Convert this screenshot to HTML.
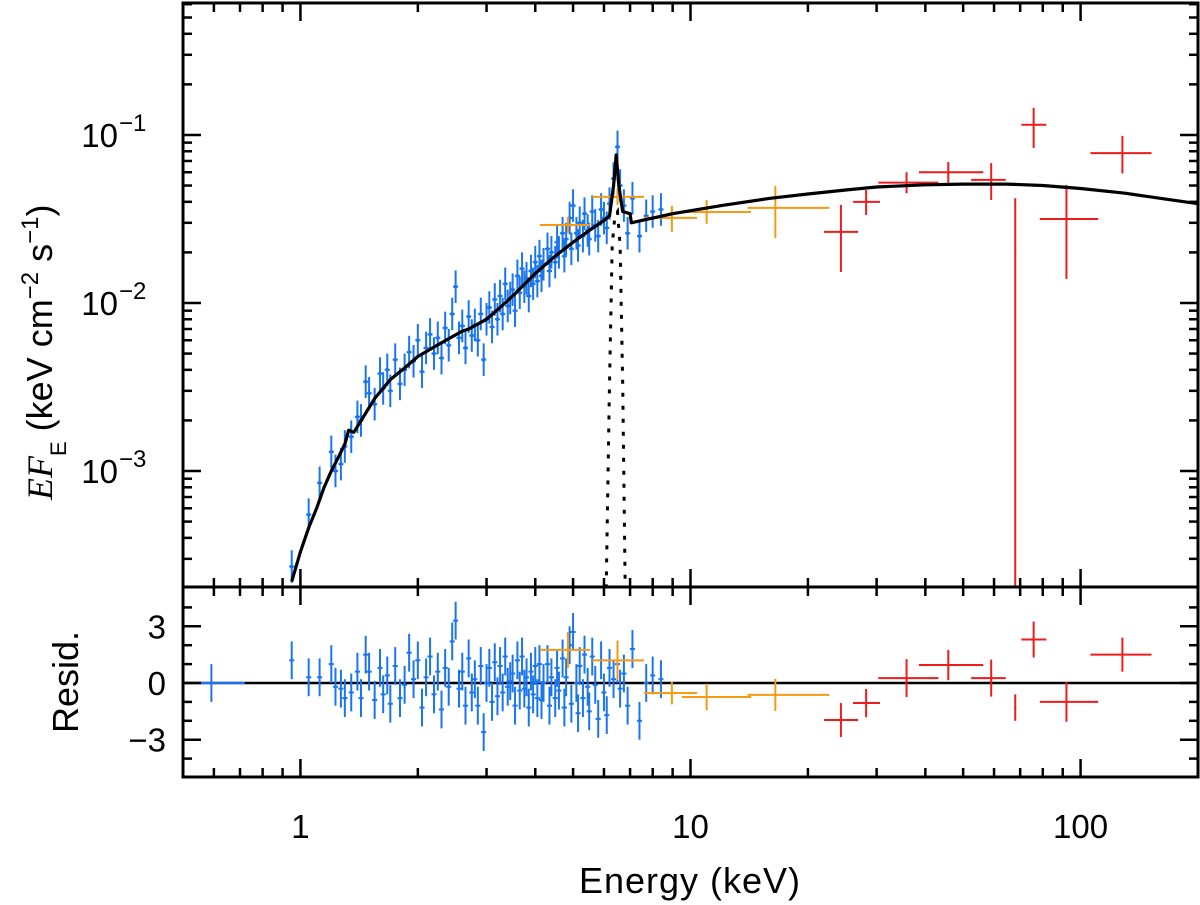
<!DOCTYPE html>
<html><head><meta charset="utf-8"><style>
html,body{margin:0;padding:0;background:#fff;}
svg{display:block;font-family:"Liberation Sans",sans-serif;}
</style></head><body>
<svg id="chart" width="1200" height="905" viewBox="0 0 1200 905" xmlns="http://www.w3.org/2000/svg"></svg>
<script>
// ---- data ----
const modelE = [0.95,1.0,1.05,1.1,1.15,1.2,1.25,1.3,1.33,1.37,1.45,1.55,1.7,1.85,2.0,2.3,2.6,2.7,3.0,3.25,3.5,4,4.5,5,5.5,6,6.2,6.35,6.45,6.55,6.7,7.0,7.05,7.5,9,12,16,20,25,30,40,50,65,80,100,130,160,200];
const modelF = [2.2e-4,3.3e-4,4.6e-4,6e-4,8e-4,1.0e-3,1.2e-3,1.45e-3,1.75e-3,1.7e-3,2.1e-3,2.7e-3,3.5e-3,4.1e-3,4.8e-3,5.8e-3,6.8e-3,7.0e-3,8e-3,9.4e-3,1.1e-2,1.5e-2,1.9e-2,2.3e-2,2.7e-2,3.1e-2,3.3e-2,5e-2,7.6e-2,5e-2,3.5e-2,3.4e-2,3.0e-2,3.1e-2,3.4e-2,3.8e-2,4.2e-2,4.45e-2,4.7e-2,4.9e-2,5.05e-2,5.1e-2,5.1e-2,5.0e-2,4.8e-2,4.5e-2,4.2e-2,3.9e-2];
const lineE = [6.08,6.2,6.3,6.4,6.5,6.6,6.7,6.8];
const lineF = [2e-4,3.3e-3,2.2e-2,3.3e-2,3.5e-2,2.2e-2,3.3e-3,2e-4];

const blueE = [0.95,1.05,1.12,1.2,1.23,1.27,1.3,1.35,1.4,1.43,1.47,1.5,1.55,1.6,1.63,1.67,1.7,1.75,1.8,1.85,1.9,1.95,2.0,2.05,2.1,2.15,2.2,2.25,2.3,2.35,2.4,2.45,2.5,2.55,2.6,2.65,2.7,2.75,2.8,2.85,2.9,2.95,3.0,3.05,3.1,3.15,3.2,3.25,3.3,3.35,3.4,3.45,3.5,3.55,3.6,3.65,3.7,3.75,3.8,3.85,3.9,3.95,4.0,4.05,4.1,4.15,4.2,4.3,4.35,4.4,4.5,4.55,4.6,4.7,4.75,4.8,4.9,4.95,5.0,5.1,5.15,5.2,5.3,5.35,5.45,5.5,5.6,5.7,5.8,5.9,6.0,6.1,6.2,6.35,6.5,6.6,6.75,6.9,7.1,7.4,7.7,8.0,8.4];
const blueF = [2.7e-4,5.5e-4,8.5e-4,1.3e-3,1.0e-3,1.1e-3,1.4e-3,1.6e-3,2.1e-3,2.0e-3,3.4e-3,2.9e-3,2.5e-3,3.8e-3,3.1e-3,4.0e-3,3.0e-3,4.6e-3,3.3e-3,4.0e-3,5.1e-3,4.5e-3,6.0e-3,3.9e-3,5.4e-3,6.5e-3,5.0e-3,6.2e-3,4.7e-3,7.1e-3,5.6e-3,8.6e-3,1.25e-2,6.2e-3,7.3e-3,5.4e-3,8.3e-3,6.4e-3,7.4e-3,6.0e-3,8.6e-3,4.6e-3,8.0e-3,9.4e-3,7.2e-3,1.05e-2,8.0e-3,1.1e-2,8.6e-3,1.3e-2,9.6e-3,1.07e-2,1.2e-2,9.0e-3,1.45e-2,1.15e-2,1.6e-2,1.25e-2,1.4e-2,1.1e-2,1.55e-2,1.3e-2,1.75e-2,1.35e-2,1.9e-2,1.45e-2,1.7e-2,2.1e-2,1.55e-2,2.0e-2,1.75e-2,2.3e-2,2.0e-2,2.6e-2,1.9e-2,2.4e-2,3.2e-2,2.1e-2,3.8e-2,2.6e-2,2.2e-2,3.0e-2,2.5e-2,3.4e-2,2.7e-2,2.4e-2,3.5e-2,2.9e-2,2.5e-2,3.6e-2,3.2e-2,2.8e-2,3.9e-2,5.5e-2,8.5e-2,5.0e-2,3.8e-2,2.6e-2,4.2e-2,2.5e-2,3.3e-2,3.5e-2,3.6e-2];
const blueR = [1.2,0.3,0.3,1.0,-0.2,-0.3,-0.8,-0.5,0.6,-0.8,1.5,0.6,-0.9,0.8,-0.6,0.4,-1.1,0.9,-0.8,-0.1,1.6,0.2,1.2,-1.3,0.3,1.4,-0.6,0.6,-1.4,0.8,-0.2,2.2,3.3,-0.3,0.6,-1.2,1.3,-0.5,0.2,-1.2,0.9,-2.6,0.0,0.8,-1.0,1.1,-0.7,0.9,-0.5,1.4,-0.2,0.1,0.5,-1.2,1.2,-0.4,1.4,-0.3,0.3,-1.3,0.6,-0.6,0.9,-0.8,1.0,-0.9,0.0,1.0,-1.2,0.3,-0.8,0.8,-0.4,1.3,-1.3,0.3,2.0,-1.1,2.7,0.0,-1.6,0.9,-0.8,1.5,-0.2,-1.5,1.4,-0.1,-1.9,1.2,-0.5,-1.7,0.8,0.2,1.0,-0.3,0.5,-1.2,1.8,-2.0,0.0,0.4,0.2];

const orangeE  = [4.85,6.5,8.96,11.0,16.5];
const orangeElo= [4.11,5.6,7.6,9.5,14.0];
const orangeEhi= [5.53,7.6,10.4,14.3,22.7];
const orangeF  = [0.0291,0.0428,0.0321,0.0348,0.0368];
const orangeFlo= [0.0261,0.0383,0.0265,0.0296,0.0243];
const orangeFhi= [0.0325,0.048,0.0378,0.041,0.0497];
const orangeR  = [1.75,1.2,-0.53,-0.74,-0.63];
const orangeRerr=[0.95,1.05,0.6,0.7,0.85];

const redE  = [24.3,28.2,35.8,45.8,59,68,75.8,92,128];
const redElo= [22.0,26.1,30.3,38.5,52.4,67.6,70.5,78.6,106];
const redEhi= [26.9,30.6,43.2,56.3,64.3,68.4,81.7,111,152];
const redF  = [0.0265,0.040,0.052,0.060,0.054,0.0198,0.115,0.0316,0.078];
const redFlo= [0.0153,0.0334,0.045,0.052,0.041,0.0001,0.0837,0.0139,0.059];
const redFhi= [0.0383,0.047,0.060,0.069,0.068,0.042,0.145,0.0504,0.0987];
const redR  = [-1.96,-1.06,0.26,0.95,0.26,-1.3,2.3,-1.0,1.5];
const redRerr=[0.9,0.75,1.0,0.8,0.98,0.7,0.95,1.05,0.9];

// ---- geometry ----
const L=183,R=1198,T=3,M=587,B=777;
const xmin=Math.log10(0.5), xmax=Math.log10(200);
const ymin=Math.log10(2.04e-4), ymax=Math.log10(0.61);
const X=e=>L+(Math.log10(e)-xmin)/(xmax-xmin)*(R-L);
const Y=f=>M-(Math.log10(Math.max(f,1e-6))-ymin)/(ymax-ymin)*(M-T);
const YR=r=>683-r*18.9;
const svg=document.getElementById('chart');
const NS='http://www.w3.org/2000/svg';
function mk(tag,attrs,parent){const e=document.createElementNS(NS,tag);for(const k in attrs)e.setAttribute(k,attrs[k]);(parent||svg).appendChild(e);return e;}

const defs=mk('defs',{});
const c1=mk('clipPath',{id:'ctop'},defs);mk('rect',{x:L,y:T,width:R-L,height:M-T},c1);
const c2=mk('clipPath',{id:'cbot'},defs);mk('rect',{x:L,y:M,width:R-L,height:B-M},c2);
const gTop=mk('g',{'clip-path':'url(#ctop)'});


const gBot=mk('g',{'clip-path':'url(#cbot)'});



const zl=mk('line',{x1:L,x2:R,y1:YR(0),y2:YR(0),stroke:'#000','stroke-width':2.5},gBot);



function cross(g,x1,x2,y,y1,y2,col,name){
  const grp=mk('g',{stroke:col,'stroke-width':2,fill:'none'},g);
  
  
  mk('line',{x1:x1,x2:x2,y1:y,y2:y},grp);
  mk('line',{x1:(x1+x2)/2,x2:(x1+x2)/2,y1:y1,y2:y2},grp);
}

const BLUE='#1a75f0',OR='#f59a12',RED='#ee1c1c';
for(let i=0;i<blueE.length;i++){
  const xl=X(blueE[i]*0.985),xh=X(blueE[i]*1.015);
  cross(gTop,xl,xh,Y(blueF[i]),Y(blueF[i]*1.25),Y(blueF[i]/1.25),BLUE,'blue-point');
  cross(gBot,xl,xh,YR(blueR[i]),YR(blueR[i]+1),YR(blueR[i]-1),BLUE,'blue-residual');
  mk('rect',{x:(xl+xh)/2-1.5,y:Y(blueF[i])-1.5,width:3,height:3,fill:BLUE},gTop);
}
cross(gBot,L-5,X(0.72),YR(0),YR(1.0),YR(-1.0),BLUE,'blue-residual-low');
for(let i=0;i<orangeE.length;i++){
  const xl=X(orangeElo[i]),xh=X(orangeEhi[i]),xc=X(orangeE[i]);
  let g=mk('g',{stroke:OR,'stroke-width':2},gTop);
  
  
  mk('line',{x1:xl,x2:xh,y1:Y(orangeF[i]),y2:Y(orangeF[i])},g);
  mk('line',{x1:xc,x2:xc,y1:Y(orangeFhi[i]),y2:Y(orangeFlo[i])},g);
  g=mk('g',{stroke:OR,'stroke-width':2},gBot);
  
  
  mk('line',{x1:xl,x2:xh,y1:YR(orangeR[i]),y2:YR(orangeR[i])},g);
  mk('line',{x1:xc,x2:xc,y1:YR(orangeR[i]+orangeRerr[i]),y2:YR(orangeR[i]-orangeRerr[i])},g);
}
for(let i=0;i<redE.length;i++){
  const xl=X(redElo[i]),xh=X(redEhi[i]),xc=X(redE[i]);
  let g=mk('g',{stroke:RED,'stroke-width':2},gTop);
  
  
  mk('line',{x1:xl,x2:xh,y1:Y(redF[i]),y2:Y(redF[i])},g);
  mk('line',{x1:xc,x2:xc,y1:Y(redFhi[i]),y2:Y(redFlo[i])},g);
  g=mk('g',{stroke:RED,'stroke-width':2},gBot);
  
  
  mk('line',{x1:xl,x2:xh,y1:YR(redR[i]),y2:YR(redR[i])},g);
  mk('line',{x1:xc,x2:xc,y1:YR(redR[i]+redRerr[i]),y2:YR(redR[i]-redRerr[i])},g);
}
let d='';modelE.forEach((e,i)=>{d+=(i?'L':'M')+X(e).toFixed(1)+','+Y(modelF[i]).toFixed(1);});
const mp=mk('path',{d:d,stroke:'#000','stroke-width':3.2,fill:'none','stroke-linejoin':'round'},gTop);


d='';lineE.forEach((e,i)=>{d+=(i?'L':'M')+X(e).toFixed(1)+','+Y(lineF[i]).toFixed(1);});
const lp=mk('path',{d:d,stroke:'#000','stroke-width':3,fill:'none','stroke-dasharray':'4,9'},gTop);



const f1=mk('rect',{x:L,y:T,width:R-L,height:M-T,fill:'none',stroke:'#000','stroke-width':3});

const f2=mk('rect',{x:L,y:M,width:R-L,height:B-M,fill:'none',stroke:'#000','stroke-width':3});


const ax=mk('g',{stroke:'#000','stroke-width':2.5});

for(let dec=-1;dec<=2;dec++)for(let m=1;m<10;m++){
  const e=m*Math.pow(10,dec); if(e<0.5||e>200)continue;
  const x=X(e),len=m===1?18:9;
  [[T,T+len],[M,M-len],[M,M+len],[B,B-len]].forEach(p=>mk('line',{x1:x,x2:x,y1:p[0],y2:p[1]},ax));
}
for(let dec=-4;dec<=-1;dec++)for(let m=1;m<10;m++){
  const f=m*Math.pow(10,dec); const y=Y(f); if(y<T||y>M)continue;
  const len=m===1?18:9;
  mk('line',{x1:L,x2:L+len,y1:y,y2:y},ax);mk('line',{x1:R,x2:R-len,y1:y,y2:y},ax);
}
for(let r=-4;r<=4;r++){const y=YR(r),len=r%3===0?18:9;
  mk('line',{x1:L,x2:L+len,y1:y,y2:y},ax);mk('line',{x1:R,x2:R-len,y1:y,y2:y},ax);}

const xt=[1,10,100];
xt.forEach(v=>{const t=mk('text',{x:X(v),y:838,'font-size':33,'text-anchor':'middle'});t.textContent=v;
 });
const yExp=['-1','-2','-3'];
yExp.forEach(s=>{const y=Y(Math.pow(10,+s));
 const t=mk('text',{x:118,y:y+12,'font-size':33,'text-anchor':'end'});t.textContent='10';
 
 const s2=mk('text',{x:119,y:y-4,'font-size':24});s2.textContent='\u2212'+s.slice(1);
 });
const rt=[3,0,-3];
rt.forEach(v=>{const t=mk('text',{x:166,y:YR(v)+12,'font-size':33,'text-anchor':'end'});t.textContent=v<0?'\u22123':String(v);
 });
const xl=mk('text',{x:690,y:893,'font-size':36,'text-anchor':'middle','letter-spacing':'1'});xl.textContent='Energy (keV)';

const rl=mk('text',{x:0,y:0,'font-size':36,'text-anchor':'middle',transform:'translate(78,682) rotate(-90)'});rl.textContent='Resid.';

const yl=mk('text',{x:0,y:0,'font-size':36,transform:'translate(52,500) rotate(-90)'});

yl.innerHTML='<tspan font-family="Liberation Serif" font-style="italic">EF</tspan><tspan font-size="22" dy="14">E</tspan><tspan dy="-14"> (keV cm</tspan><tspan font-size="24" dy="-14">\u22122</tspan><tspan dy="14"> s</tspan><tspan font-size="24" dy="-14">\u22121</tspan><tspan dy="14">)</tspan>';
</script>
</body></html>
